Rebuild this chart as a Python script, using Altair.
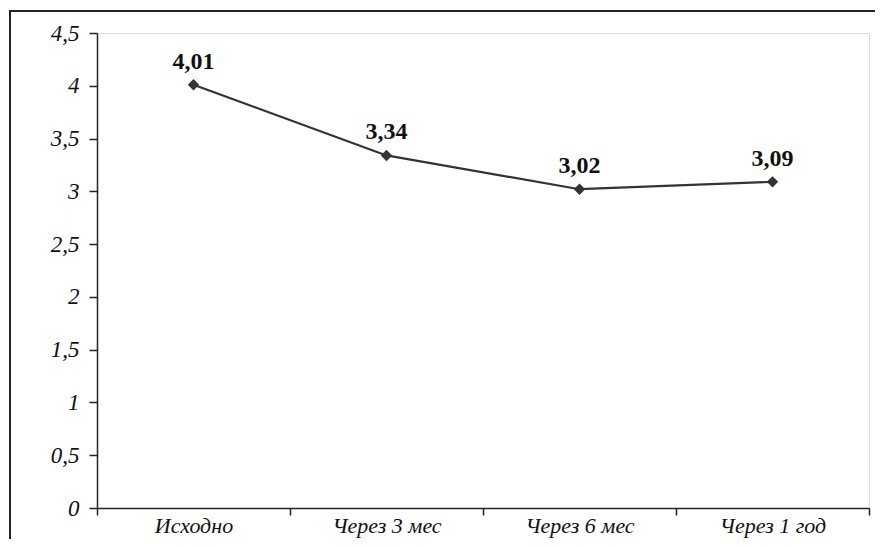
import altair as alt
import pandas as pd

categories = ["Исходно", "Через 3 мес", "Через 6 мес", "Через 1 год"]
values = [4.01, 3.34, 3.02, 3.09]
y_ticks = [0, 0.5, 1, 1.5, 2, 2.5, 3, 3.5, 4, 4.5]

df = pd.DataFrame({"cat": categories, "val": values})

W, H = 772, 475
FONT = "Liberation Serif"

x_enc = alt.X("cat:N", sort=categories, title=None,
              scale=alt.Scale(paddingInner=0, paddingOuter=0),
              axis=alt.Axis(labelAngle=0, tickBand="extent", labelFont=FONT,
                            labelFontStyle="italic", labelFontSize=22,
                            labelColor="#111", labelPadding=0,
                            domainColor="#222", domainWidth=1.5,
                            tickColor="#222", tickWidth=1.5, tickSize=7,
                            grid=False))
y_enc = alt.Y("val:Q", title=None,
              scale=alt.Scale(domain=[0, 4.5], nice=False, zero=True),
              axis=alt.Axis(values=y_ticks, labelFont=FONT,
                            labelFontStyle="italic", labelFontSize=23,
                            labelColor="#111", labelPadding=10,
                            labelExpr="replace(toString(datum.value), '.', ',')",
                            domainColor="#222", domainWidth=1.5,
                            tickColor="#222", tickWidth=1.5, tickSize=8,
                            grid=False))

base = alt.Chart(df)

line = base.mark_line(color="#333", strokeWidth=2.2).encode(x=x_enc, y=y_enc)
pts = base.mark_point(shape="diamond", filled=True, color="#333", size=130,
                      opacity=1).encode(x=x_enc, y=y_enc)
labels = base.transform_calculate(
    lbl="replace(format(datum.val, '.2f'), '.', ',')"
).mark_text(font=FONT, fontWeight="bold", fontSize=24, color="#111",
            baseline="alphabetic", dy=-16).encode(x=x_enc, y=y_enc, text="lbl:N")

frame = alt.Chart(pd.DataFrame({"a": [0]})).mark_rect(
    fill=None, stroke="#222", strokeWidth=2, clip=False
).encode(x=alt.value(-87), y=alt.value(-22), x2=alt.value(W + 30),
         y2=alt.value(H + 40))

chart = alt.layer(frame, line, pts, labels).properties(
    width=W, height=H,
    autosize=alt.AutoSizeParams(type="none"),
    padding={"left": 89, "top": 25, "right": 6, "bottom": 31},
).configure_view(strokeWidth=0).configure(background="white")

chart.save("out.html", embed_options={"renderer": "svg", "actions": False})
